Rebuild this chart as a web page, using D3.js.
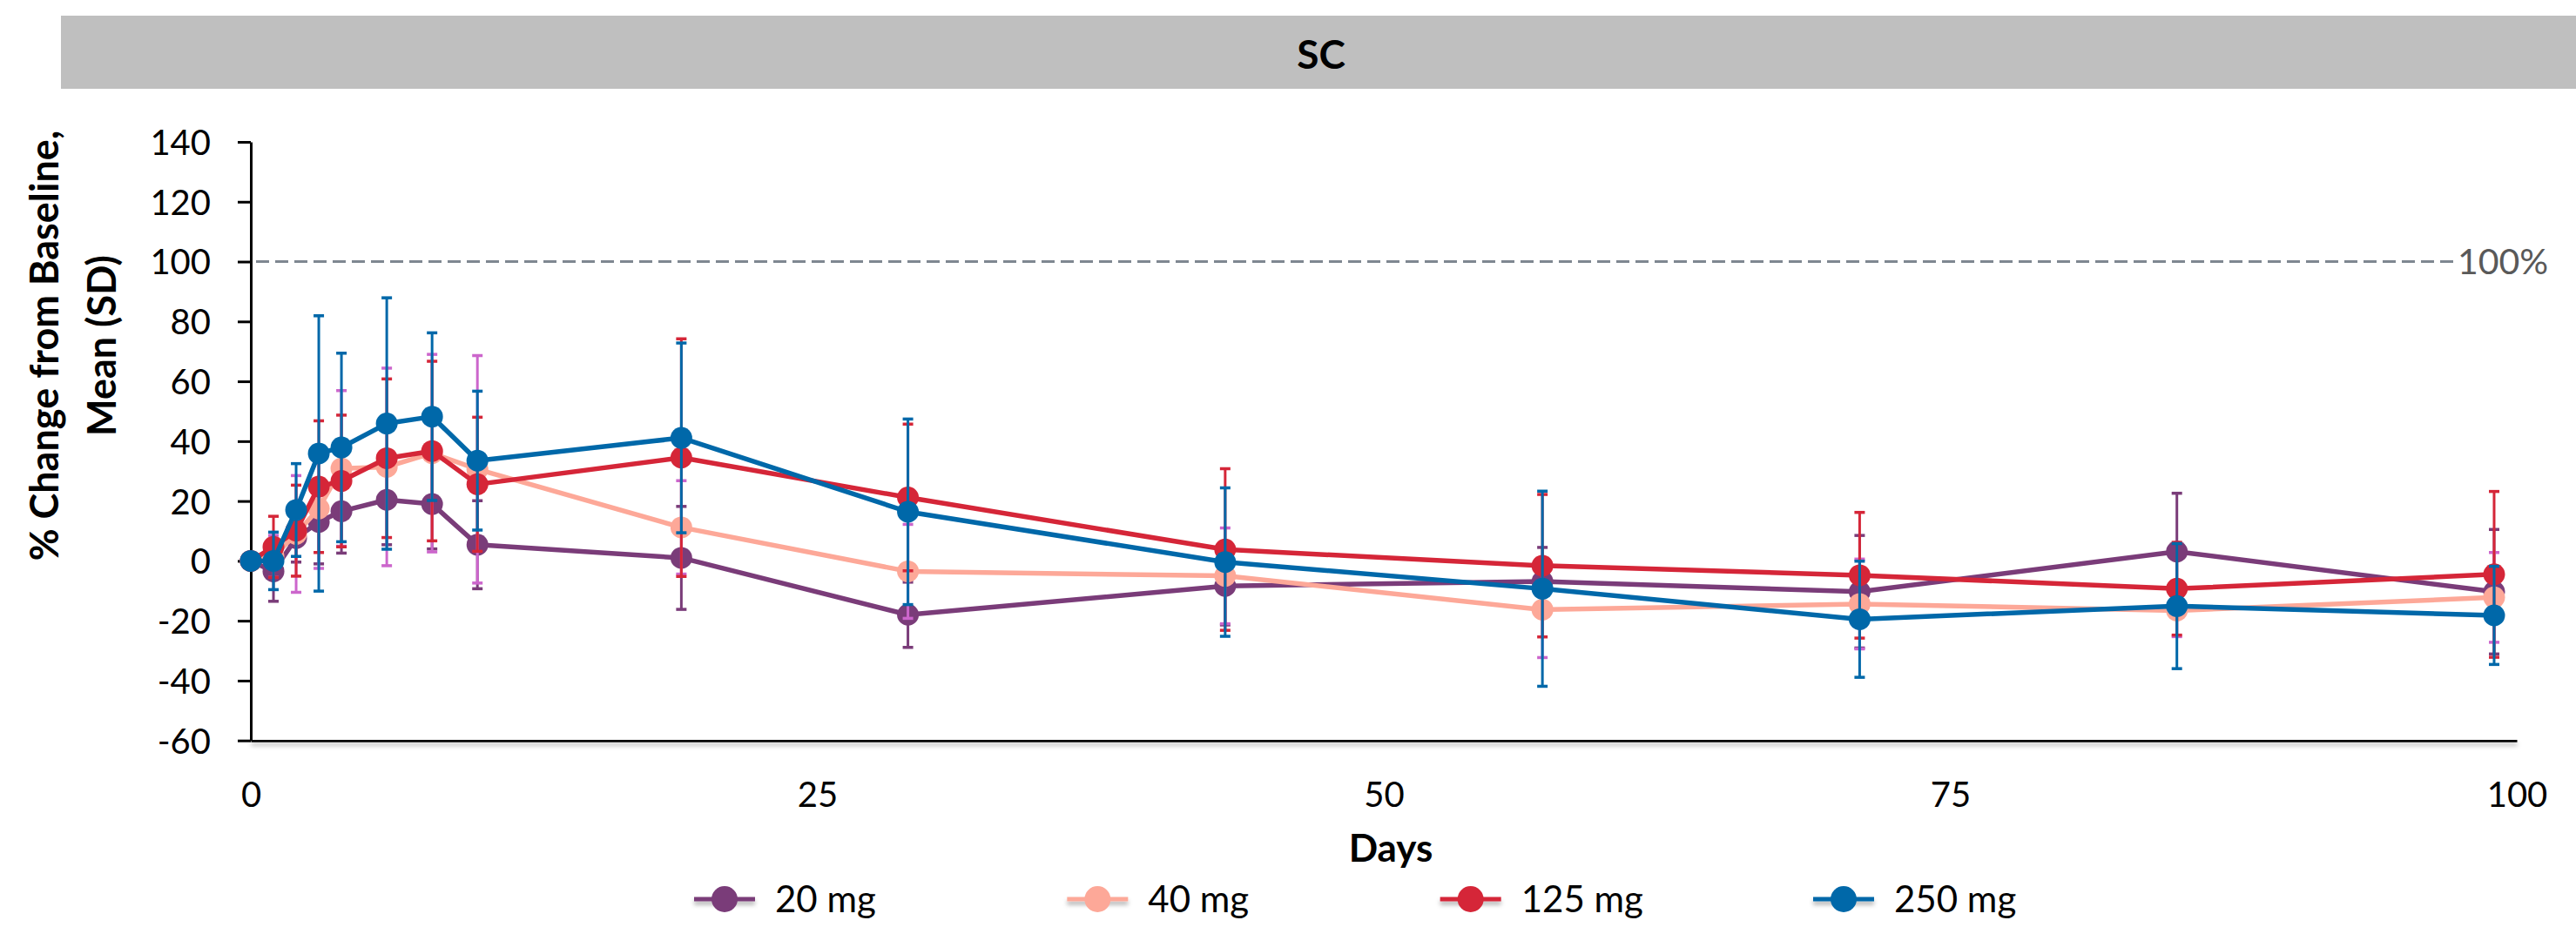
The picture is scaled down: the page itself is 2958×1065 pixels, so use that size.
<!DOCTYPE html>
<html>
<head>
<meta charset="utf-8">
<script src="https://cdn.jsdelivr.net/npm/d3@7"></script>
<style>
  html, body { margin: 0; padding: 0; background: #ffffff; }
  svg { display: block; font-family: Lato, "Open Sans", sans-serif; }
</style>
</head>
<body>
<div id="chart"></div>
<script>
// Study days on the x axis
const days = [0, 1, 2, 3, 4, 6, 8, 10, 19, 29, 43, 57, 71, 85, 99];

// Dose groups
const doseNames = ['20 mg', '40 mg', '125 mg', '250 mg'];

// Mean % change from baseline per dose group
const mean20 = [0, -3.5, 7.6, 13.0, 16.6, 20.4, 19.0, 5.4, 1.0, -18.0, -8.4, -6.9, -10.3, 3.1, -10.3];
const mean40 = [0, 1.5, 9.0, 17.5, 30.9, 31.4, 36.0, 30.6, 11.2, -3.5, -5.0, -16.3, -14.4, -16.6, -12.2];
const mean125 = [0, 4.7, 10.1, 24.8, 26.7, 34.3, 36.7, 25.6, 34.5, 21.2, 3.8, -1.6, -4.8, -9.3, -4.5];
const mean250 = [0, 0, 17.0, 35.9, 37.9, 45.9, 48.2, 33.5, 41.1, 16.4, -0.4, -9.3, -19.5, -15.1, -18.2];

// Standard deviations (error bars)
const sd20 = [0, 10.0, 8.0, 14.0, 14.0, 15.0, 15.0, 14.7, 17.2, 10.9, 13.0, 11.4, 18.8, 19.5, 20.8];
const sd40 = [0, 7.0, 19.5, 20.0, 26.0, 33.0, 33.0, 38.0, 15.6, 15.7, 16.0, 16.0, 15.0, 8.7, 15.0];
const sd125 = [0, 10.2, 15.2, 22.0, 22.0, 26.5, 30.0, 22.4, 39.7, 24.5, 27.0, 23.8, 21.0, 15.5, 27.7];
const sd250 = [0, 9.6, 15.5, 46.0, 31.5, 42.0, 28.0, 23.2, 31.7, 31.0, 24.8, 32.6, 19.4, 20.9, 16.4];

// Axis ticks
const yTicks = [-60, -40, -20, 0, 20, 40, 60, 80, 100, 120, 140];
const xTicks = [0, 25, 50, 75, 100];

const lineColors = ['#7a3c79', '#fda898', '#d52638', '#0068a9'];
const errColors = ['#7a3c79', '#cc66cc', '#d52638', '#0068a9'];

const allMeans = [mean20, mean40, mean125, mean250];
const allSds = [sd20, sd40, sd125, sd250];

const series = doseNames.map((name, i) => ({
  name: name,
  color: lineColors[i],
  errColor: errColors[i],
  points: days.map((d, j) => ({ day: d, mean: allMeans[i][j], sd: allSds[i][j] }))
}));

// Dimensions
const width = 2958;
const height = 1065;
const plot = { left: 288, right: 2890, top: 163, bottom: 850.7 };

const svg = d3.select('#chart')
  .append('svg')
    .attr('width', width)
    .attr('height', height);

// Soft shadow used under the x axis and the legend keys
// (user space region, since the lines have a zero-height box)
const defs = svg.append('defs');
defs.append('filter')
    .attr('id', 'shadow')
    .attr('filterUnits', 'userSpaceOnUse')
    .attr('x', 0).attr('y', 0)
    .attr('width', width).attr('height', height)
  .append('feDropShadow')
    .attr('dx', 0)
    .attr('dy', 4)
    .attr('stdDeviation', 2.5)
    .attr('flood-color', '#000')
    .attr('flood-opacity', 0.3);

// Header band
svg.append('rect')
    .attr('x', 70)
    .attr('y', 18)
    .attr('width', width - 70)
    .attr('height', 84)
    .attr('fill', '#bfbfbf');

svg.append('text')
    .attr('x', 1517)
    .attr('y', 79)
    .attr('text-anchor', 'middle')
    .style('font-size', '46px')
    .style('font-weight', 'bold')
    .text('SC');

// Scales
const xScale = d3.scaleLinear()
  .domain([0, 100])
  .range([plot.left, plot.right]);

const yScale = d3.scaleLinear()
  .domain([-60, 140])
  .range([plot.bottom, plot.top]);

// Reference line at 100%
svg.append('line')
    .attr('x1', plot.left + 6)
    .attr('x2', 2818)
    .attr('y1', yScale(100))
    .attr('y2', yScale(100))
    .attr('stroke', '#7f8791')
    .attr('stroke-width', 3)
    .attr('stroke-dasharray', '15 7');

svg.append('text')
    .attr('x', 2822)
    .attr('y', yScale(100) - 1)
    .attr('dominant-baseline', 'central')
    .attr('fill', '#595959')
    .style('font-size', '41px')
    .text('100%');

// X axis
const xAxis = svg.append('g')
    .attr('transform', `translate(0, ${plot.bottom})`)
    .call(d3.axisBottom(xScale).tickValues(xTicks).tickSize(0).tickSizeOuter(0));

xAxis.select('.domain')
    .attr('stroke', '#000')
    .attr('stroke-width', 3)
    .attr('filter', 'url(#shadow)');

xAxis.selectAll('text')
    .attr('y', 76)
    .attr('dy', null)
    .attr('fill', '#000')
    .style('font-size', '40px')
    .style('font-family', 'Lato, "Open Sans", sans-serif');

// Y axis (plain hyphen for negatives, as in the source)
const yAxis = svg.append('g')
    .attr('transform', `translate(${plot.left}, 0)`)
    .call(d3.axisLeft(yScale)
      .tickValues(yTicks)
      .tickFormat(d => String(d))
      .tickSize(15)
      .tickSizeOuter(0)
      .tickPadding(31));

yAxis.select('.domain')
    .attr('stroke', '#000')
    .attr('stroke-width', 3);

yAxis.selectAll('.tick line')
    .attr('stroke', '#000')
    .attr('stroke-width', 3);

yAxis.selectAll('text')
    .attr('fill', '#000')
    .attr('dy', '0.36em')
    .style('font-size', '40px')
    .style('font-family', 'Lato, "Open Sans", sans-serif');

// Axis titles
svg.append('text')
    .attr('transform', 'translate(67, 397) rotate(-90)')
    .attr('text-anchor', 'middle')
    .style('font-size', '45px')
    .style('font-weight', 'bold')
    .text('% Change from Baseline,');

svg.append('text')
    .attr('transform', 'translate(133, 397) rotate(-90)')
    .attr('text-anchor', 'middle')
    .style('font-size', '45px')
    .style('font-weight', 'bold')
    .text('Mean (SD)');

svg.append('text')
    .attr('x', 1597)
    .attr('y', 990)
    .attr('text-anchor', 'middle')
    .style('font-size', '44px')
    .style('font-weight', 'bold')
    .text('Days');

// Series: error bars, line, markers
const line = d3.line()
  .x(d => xScale(d.day))
  .y(d => yScale(d.mean));

const capHalf = 6;

series.forEach(s => {
  const g = svg.append('g').attr('class', 'series');
  const bars = s.points.filter(p => p.sd > 0);

  g.selectAll('.err')
    .data(bars)
    .enter()
    .append('line')
      .attr('x1', d => xScale(d.day))
      .attr('x2', d => xScale(d.day))
      .attr('y1', d => yScale(d.mean + d.sd))
      .attr('y2', d => yScale(d.mean - d.sd))
      .attr('stroke', s.errColor)
      .attr('stroke-width', 3);

  [1, -1].forEach(sign => {
    g.selectAll('.cap' + sign)
      .data(bars)
      .enter()
      .append('line')
        .attr('x1', d => xScale(d.day) - capHalf)
        .attr('x2', d => xScale(d.day) + capHalf)
        .attr('y1', d => yScale(d.mean + sign * d.sd))
        .attr('y2', d => yScale(d.mean + sign * d.sd))
        .attr('stroke', s.errColor)
        .attr('stroke-width', 3.5);
  });

  g.append('path')
    .datum(s.points)
    .attr('d', line)
    .attr('fill', 'none')
    .attr('stroke', s.color)
    .attr('stroke-width', 5.5)
    .attr('stroke-linejoin', 'round');

  g.selectAll('circle')
    .data(s.points)
    .enter()
    .append('circle')
      .attr('cx', d => xScale(d.day))
      .attr('cy', d => yScale(d.mean))
      .attr('r', 12.5)
      .attr('fill', s.color);
});

// Legend
const legendX = d3.scalePoint()
  .domain(doseNames)
  .range([832, 2117]);

const legendY = 1033;

series.forEach(s => {
  const cx = legendX(s.name);
  const item = svg.append('g').attr('class', 'legend-item');

  item.append('line')
    .attr('x1', cx - 35)
    .attr('x2', cx + 35)
    .attr('y1', legendY)
    .attr('y2', legendY)
    .attr('stroke', s.color)
    .attr('stroke-width', 5)
    .attr('filter', 'url(#shadow)');

  item.append('circle')
    .attr('cx', cx)
    .attr('cy', legendY)
    .attr('r', 15)
    .attr('fill', s.color);

  item.append('text')
    .attr('x', cx + 58)
    .attr('y', legendY + 15)
    .style('font-size', '42px')
    .text(s.name);
});
</script>
</body>
</html>
